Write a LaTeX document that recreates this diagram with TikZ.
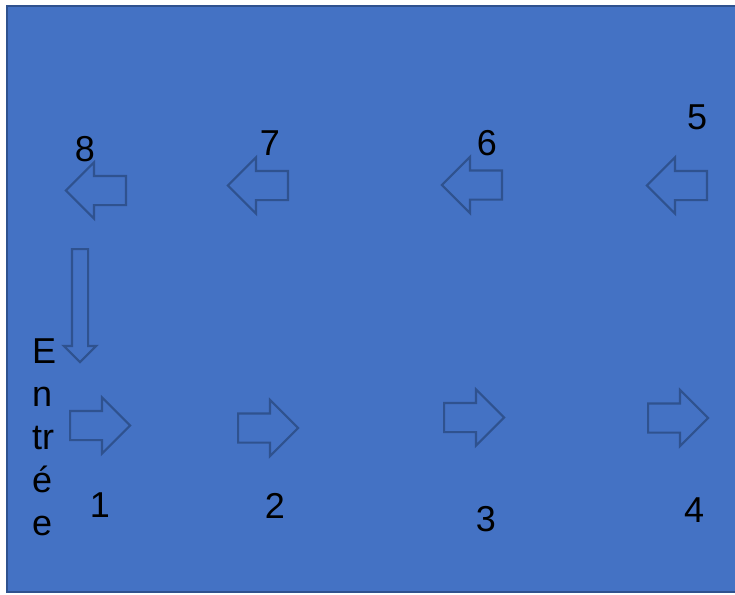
\documentclass[tikz,border=0pt]{standalone}
\usepackage{fontspec}
\setmainfont{Liberation Sans}
\usetikzlibrary{shapes.arrows}
\definecolor{slidebg}{HTML}{4472C4}
\definecolor{slideline}{HTML}{2F528F}

\begin{document}
\begin{tikzpicture}[
    x=1pt, y=-1pt,
    blockarrow/.style={single arrow, draw=slideline, line width=2.2pt, minimum height=60pt, inner xsep=0pt, inner ysep=13.5pt, single arrow head extend=13.5pt, anchor=tail},
    downarrow/.style={single arrow, draw=slideline, line width=2.2pt, minimum height=113pt, inner xsep=0pt, inner ysep=7pt, single arrow head extend=8pt, rotate=-90, anchor=tail},
    num/.style={anchor=base, inner sep=0pt, font=\fontsize{36}{43}\selectfont}
]
\useasboundingbox (0,0) rectangle (735,594);
\clip (0,0) rectangle (735,594);
\draw[fill=slidebg, draw=slideline, line width=2pt] (7,6) rectangle (760,592);

\node[blockarrow] (a1) at (69,425.5) {};
\node[blockarrow] (a2) at (237,428) {};
\node[blockarrow] (a3) at (443,417.5) {};
\node[blockarrow] (a4) at (647,418) {};
\node[blockarrow, rotate=180] (a5) at (708,185.5) {};
\node[blockarrow, rotate=180] (a6) at (503,185) {};
\node[blockarrow, rotate=180] (a7) at (289,185.5) {};
\node[blockarrow, rotate=180] (a8) at (127,190.5) {};
\node[downarrow] (down) at (80,248) {};

\node[num] (l1) at (100,517) {1};
\node[num] (l2) at (275,518) {2};
\node[num] (l3) at (486,531) {3};
\node[num] (l4) at (694,522) {4};
\node[num] (l5) at (697,129) {5};
\node[num] (l6) at (487,155) {6};
\node[num] (l7) at (270,155) {7};
\node[num] (l8) at (85,161) {8};

\node[num, anchor=north west, align=left] (entree) at (32,339) {E\\n\\tr\\é\\e};
\end{tikzpicture}
\end{document}
